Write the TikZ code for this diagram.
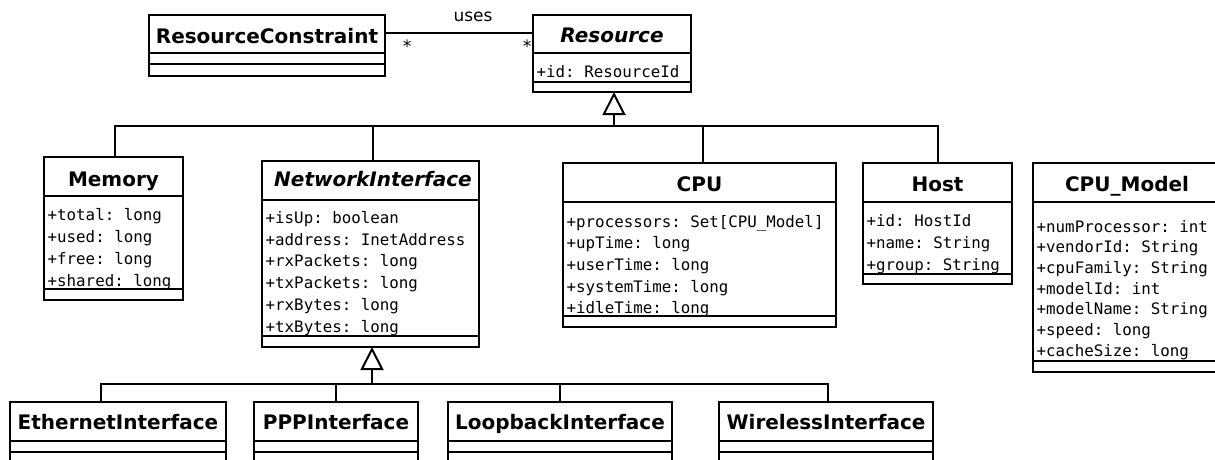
\documentclass[tikz,border=0pt]{standalone}
\usepackage{fontspec}
\setmainfont{DejaVu Sans}
\setmonofont{DejaVu Sans Mono}
\usetikzlibrary{arrows.meta}
\tikzset{
  box/.style={draw, line width=2.3pt, anchor=north west, inner sep=0pt, outer sep=0pt},
  sepline/.style={line width=2.3pt},
  ctitle/.style={font=\fontsize{20}{24}\selectfont\bfseries, anchor=base, inner sep=0pt},
  atitle/.style={font=\fontsize{20}{24}\selectfont\bfseries\itshape, anchor=base, inner sep=0pt},
  attr/.style={font=\fontsize{15.8}{19}\selectfont\ttfamily, anchor=base west, inner sep=0pt},
  lbl/.style={font=\fontsize{17}{20}\selectfont, inner sep=0pt},
  conn/.style={line width=2pt},
  gen/.style={conn, -{Triangle[open, length=23pt, width=23pt]}},
}
% name, x1, y1, x2, y2, header bottom, attributes bottom
\newcommand\umlclass[7]{%
  \node[box, minimum width={#4pt-#2pt}, minimum height={#5pt-#3pt}] (#1) at (#2,#3) {};
  \draw[sepline] (#2,#6) -- (#4,#6);
  \draw[sepline] (#2,#7) -- (#4,#7);
}
% name, x, first baseline, line step, list
\newcommand\attrlist[5]{%
  \foreach \a [count=\i from 0] in {#5} {\node[attr] (#1-a\i) at (#2, {#3+\i*#4}) {\a};}
}
\begin{document}
\begin{tikzpicture}[x=1pt,y=-1pt]
\useasboundingbox (0,0) rectangle (1215,459);
\clip (0,0) rectangle (1215,459);

% ResourceConstraint
\umlclass{rc}{149}{15}{385}{76}{53}{64}
\node[ctitle] (rc-t) at (267,43) {ResourceConstraint};

% Resource
\umlclass{resource}{533}{15}{691}{92}{53}{82}
\node[atitle] (resource-t) at (612,42) {Resource};
\attrlist{resource}{536.5}{77}{21.7}{{+id: ResourceId}}

% association
\draw[conn] ([yshift=12.5pt]rc.east) -- ([yshift=20.5pt]resource.west);
\node[lbl] (uses) at (473,17) {uses};
\node[lbl] (m1) at (407,46) {*};
\node[lbl] (m2) at (527,46) {*};

% Memory
\umlclass{memory}{44}{157}{183}{300}{196}{289}
\node[ctitle] (memory-t) at (113.5,186) {Memory};
\attrlist{memory}{47.5}{220.5}{21.9}{{+total: long},{+used: long},{+free: long},{+shared: long}}

% NetworkInterface
\umlclass{netif}{262}{161}{479}{347}{200}{336}
\node[atitle] (netif-t) at (373,186) {NetworkInterface};
\attrlist{netif}{265.5}{223.5}{21.7}{{+isUp: boolean},{+address: InetAddress},{+rxPackets: long},{+txPackets: long},{+rxBytes: long},{+txBytes: long}}

% CPU
\umlclass{cpu}{563}{163}{836}{327}{202}{316}
\node[ctitle] (cpu-t) at (699.5,191) {CPU};
\attrlist{cpu}{566.5}{227}{21.7}{{+processors: Set[CPU\_Model]},{+upTime: long},{+userTime: long},{+systemTime: long},{+idleTime: long}}

% Host
\umlclass{host}{863}{163}{1012}{284}{202}{274}
\node[ctitle] (host-t) at (937.5,191) {Host};
\attrlist{host}{866.5}{226}{22.2}{{+id: HostId},{+name: String},{+group: String}}

% CPU_Model
\umlclass{cpumodel}{1033}{163}{1222}{372}{202}{361}
\node[ctitle] (cpumodel-t) at (1127,191) {CPU\_Model};
\attrlist{cpumodel}{1036.5}{232}{20.7}{{+numProcessor: int},{+vendorId: String},{+cpuFamily: String},{+modelId: int},{+modelName: String},{+speed: long},{+cacheSize: long}}

% generalization to Resource
\coordinate (g1) at (614,126);
\draw[gen] (g1) -- (g1 |- resource.south);
\draw[conn] ([xshift=1.5pt]memory.north) |- (g1) -| (host.north);
\draw[conn] ([xshift=2.5pt]netif.north) -- ([xshift=2.5pt]netif.north |- g1);
\draw[conn] ([xshift=3.5pt]cpu.north) -- ([xshift=3.5pt]cpu.north |- g1);

% subclasses of NetworkInterface
\umlclass{eth}{10}{402}{226}{480}{441}{452}
\node[ctitle] (eth-t) at (118,429) {EthernetInterface};
\umlclass{ppp}{254}{402}{418}{480}{441}{452}
\node[ctitle] (ppp-t) at (336,429) {PPPInterface};
\umlclass{loop}{448}{402}{672}{480}{441}{452}
\node[ctitle] (loop-t) at (560,429) {LoopbackInterface};
\umlclass{wifi}{719}{402}{933}{480}{441}{452}
\node[ctitle] (wifi-t) at (826,429) {WirelessInterface};

\coordinate (g2) at (372,383.5);
\draw[gen] (g2) -- (g2 |- netif.south);
\draw[conn] ([xshift=-17pt]eth.north) |- (g2) -| ([xshift=2pt]wifi.north);
\draw[conn] (ppp.north) -- (ppp.north |- g2);
\draw[conn] (loop.north) -- (loop.north |- g2);
\end{tikzpicture}
\end{document}
